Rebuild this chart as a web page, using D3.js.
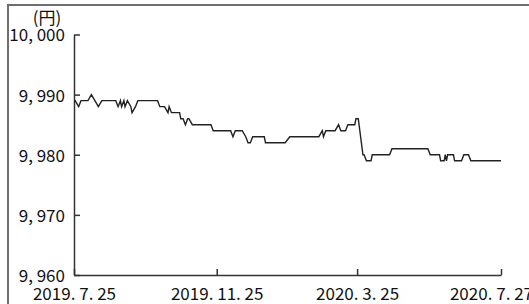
<!DOCTYPE html>
<html><head><meta charset="utf-8">
<script src="https://cdn.jsdelivr.net/npm/d3@7/dist/d3.min.js"></script>
<style>
html,body{margin:0;padding:0;background:#fff;}
svg{display:block;}
text{font-family:"Noto Sans CJK JP","Noto Sans",sans-serif;}
</style></head>
<body>
<script>
// ---- data ----
const dates = ["2019-07-25","2019-07-26","2019-07-29","2019-07-31","2019-08-06","2019-08-09","2019-08-12","2019-08-15","2019-08-18","2019-08-30",
"2019-09-01","2019-09-03","2019-09-04","2019-09-06","2019-09-07","2019-09-09","2019-09-12","2019-09-13","2019-09-16","2019-09-18",
"2019-10-05","2019-10-07","2019-10-11","2019-10-14","2019-10-15","2019-10-17","2019-10-24","2019-10-25","2019-10-27","2019-10-29",
"2019-10-31","2019-11-01","2019-11-04","2019-11-20","2019-11-22","2019-12-07","2019-12-09","2019-12-11","2019-12-17","2019-12-20",
"2019-12-22","2019-12-24","2019-12-26","2020-01-05","2020-01-06","2020-01-23","2020-01-27","2020-02-21","2020-02-24","2020-02-25",
"2020-02-27","2020-03-06","2020-03-09","2020-03-11","2020-03-15","2020-03-17","2020-03-23","2020-03-24","2020-03-26","2020-03-30",
"2020-03-31","2020-04-02","2020-04-06","2020-04-07","2020-04-22","2020-04-24","2020-05-25","2020-05-27","2020-06-04","2020-06-05",
"2020-06-08","2020-06-09","2020-06-10","2020-06-11","2020-06-16","2020-06-17","2020-06-23","2020-06-25","2020-06-29","2020-07-01",
"2020-07-27"];
const values = [9989,9989,9988,9989,9989,9990,9989,9988,9989,9989,
9988,9989,9988,9989,9988,9989,9988,9987,9988,9989,
9989,9988,9988,9987,9988,9987,9987,9986,9986,9985,
9986,9986,9985,9985,9984,9984,9983,9984,9984,9983,
9982,9982,9983,9983,9982,9982,9983,9983,9984,9983,
9984,9984,9985,9984,9984,9985,9985,9986,9986,9980,
9980,9979,9979,9980,9980,9981,9981,9980,9980,9979,
9979,9980,9979,9980,9980,9979,9979,9980,9980,9979,
9979];
const yTicks = [9960, 9970, 9980, 9990, 10000];
const xTickDates = ["2019-07-25","2019-11-25","2020-03-25","2020-07-27"];
const xTickLabels = ["2019. 7. 25","2019. 11. 25","2020. 3. 25","2020. 7. 27"];
const unitLabel = "(円)";

// ---- chart ----
const W = 529, H = 304;
const parse = d3.timeParse("%Y-%m-%d");
const svg = d3.select("body").append("svg").attr("width", W).attr("height", H);

svg.append("rect").attr("x", 8).attr("y", 5).attr("width", 600).attr("height", 400)
  .attr("fill", "none").attr("stroke", "#6e6e6e").attr("stroke-width", 2);

const x = d3.scaleTime().domain([parse("2019-07-25"), parse("2020-07-27")]).range([74, 501]);
const y = d3.scaleLinear().domain([9960, 10000]).range([275, 34.5]);

const fmt = v => d3.format(",")(v).replace(",", ", ");

const gy = svg.append("g").attr("transform", "translate(74,0)")
  .call(d3.axisLeft(y).tickValues(yTicks).tickFormat(fmt).tickSizeInner(-6).tickSizeOuter(0).tickPadding(9));
const gx = svg.append("g").attr("transform", "translate(0,275)")
  .call(d3.axisBottom(x).tickValues(xTickDates.map(parse)).tickFormat((d, i) => xTickLabels[i]).tickSizeInner(-6).tickSizeOuter(0).tickPadding(13));

[gx, gy].forEach(g => {
  g.select(".domain").attr("stroke", "#333").attr("stroke-width", 1.5);
  g.selectAll(".tick line").attr("stroke", "#333").attr("stroke-width", 1.5);
  g.selectAll(".tick text").attr("fill", "#111").style("font-size", "17px").style("font-family", "'Noto Sans CJK JP', sans-serif");
});
gy.selectAll(".tick text").attr("dy", "0.38em");
gx.selectAll(".tick text").filter((d, i) => i === xTickLabels.length - 1).attr("dx", -10);

svg.append("text").attr("x", 47).attr("y", 24).attr("text-anchor", "middle")
  .attr("fill", "#111").style("font-size", "17px").text(unitLabel);

const pts = dates.map((d, i) => [parse(d), values[i]]);
svg.append("path").datum(pts)
  .attr("fill", "none").attr("stroke", "#222").attr("stroke-width", 1.4)
  .attr("stroke-linejoin", "miter")
  .attr("d", d3.line().x(d => x(d[0])).y(d => y(d[1])));
</script>
</body></html>
